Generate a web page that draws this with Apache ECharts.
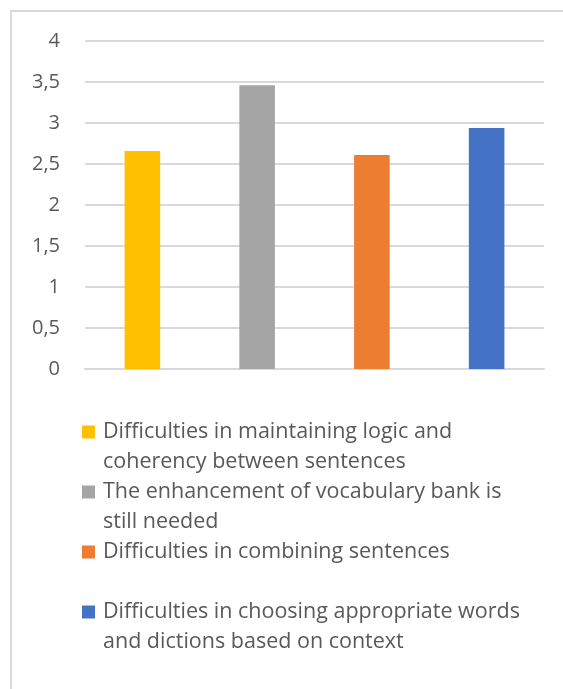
<!DOCTYPE html>
<html>
<head>
<meta charset="utf-8">
<script src="https://cdn.jsdelivr.net/npm/echarts@6/dist/echarts.min.js"></script>
<style>
  html, body { margin: 0; padding: 0; background: #fff; }
  #frame { position: absolute; left: 10px; top: 10px; width: 553px; height: 679px;
           border-left: 2px solid #d9d9d9; border-top: 2px solid #d9d9d9; }
  #chart { position: absolute; left: 0; top: 0; width: 563px; height: 689px; }
</style>
</head>
<body>
<div id="frame"></div>
<div id="chart"></div>
<script>
// categories / series labels
const names = [
  'Difficulties in maintaining logic and\ncoherency between sentences',
  'The enhancement of vocabulary bank is\nstill needed',
  'Difficulties in combining sentences\n',
  'Difficulties in choosing appropriate words\nand dictions based on context'
]
const values = [2.66, 3.46, 2.61, 2.94]
const colors = ['#ffc000', '#a5a5a5', '#ed7d31', '#4472c4']
const yTicks = [0, 0.5, 1, 1.5, 2, 2.5, 3, 3.5, 4]

const font = 'Open Sans'
const textColor = '#595959'

let series = []
for (let i = 0; i < names.length; i++) {
  let d = values.map((v, j) => (j === i ? v : null))
  series.push({
    name: names[i],
    type: 'bar',
    stack: 'all',
    barWidth: '31%',
    data: d,
    itemStyle: { color: colors[i] }
  })
}

const my_echart = echarts.init(document.getElementById('chart'), null, {renderer: 'canvas'})

my_echart.setOption({
  animation: false,
  color: colors,
  grid: { left: 85, right: 19, top: 41, bottom: 320, containLabel: false },
  xAxis: {
    type: 'category',
    data: names.map((n, i) => 'c' + i),
    axisLine: { show: true, lineStyle: { color: '#d9d9d9', width: 2 } },
    axisTick: { show: false },
    axisLabel: { show: false }
  },
  yAxis: {
    type: 'value',
    min: yTicks[0],
    max: yTicks[yTicks.length - 1],
    interval: 0.5,
    axisLine: { show: false },
    axisTick: { show: false },
    splitLine: { lineStyle: { color: '#d9d9d9', width: 2 } },
    axisLabel: {
      margin: 25,
      color: textColor,
      fontFamily: font,
      fontSize: 20,
      formatter: (v) => String(v).replace('.', ',')
    }
  },
  legend: {
    orient: 'vertical',
    left: 77,
    top: 382,
    itemGap: -30,
    itemWidth: 13,
    itemHeight: 13,
    icon: 'rect',
    data: names,
    // blank first line so the icon sits beside the first text line
    formatter: (n) => '\n' + n,
    textStyle: {
      color: textColor,
      fontFamily: font,
      fontSize: 21.5,
      lineHeight: 30,
      padding: [0, 0, 0, 3]
    }
  },
  series: series
})
</script>
</body>
</html>
